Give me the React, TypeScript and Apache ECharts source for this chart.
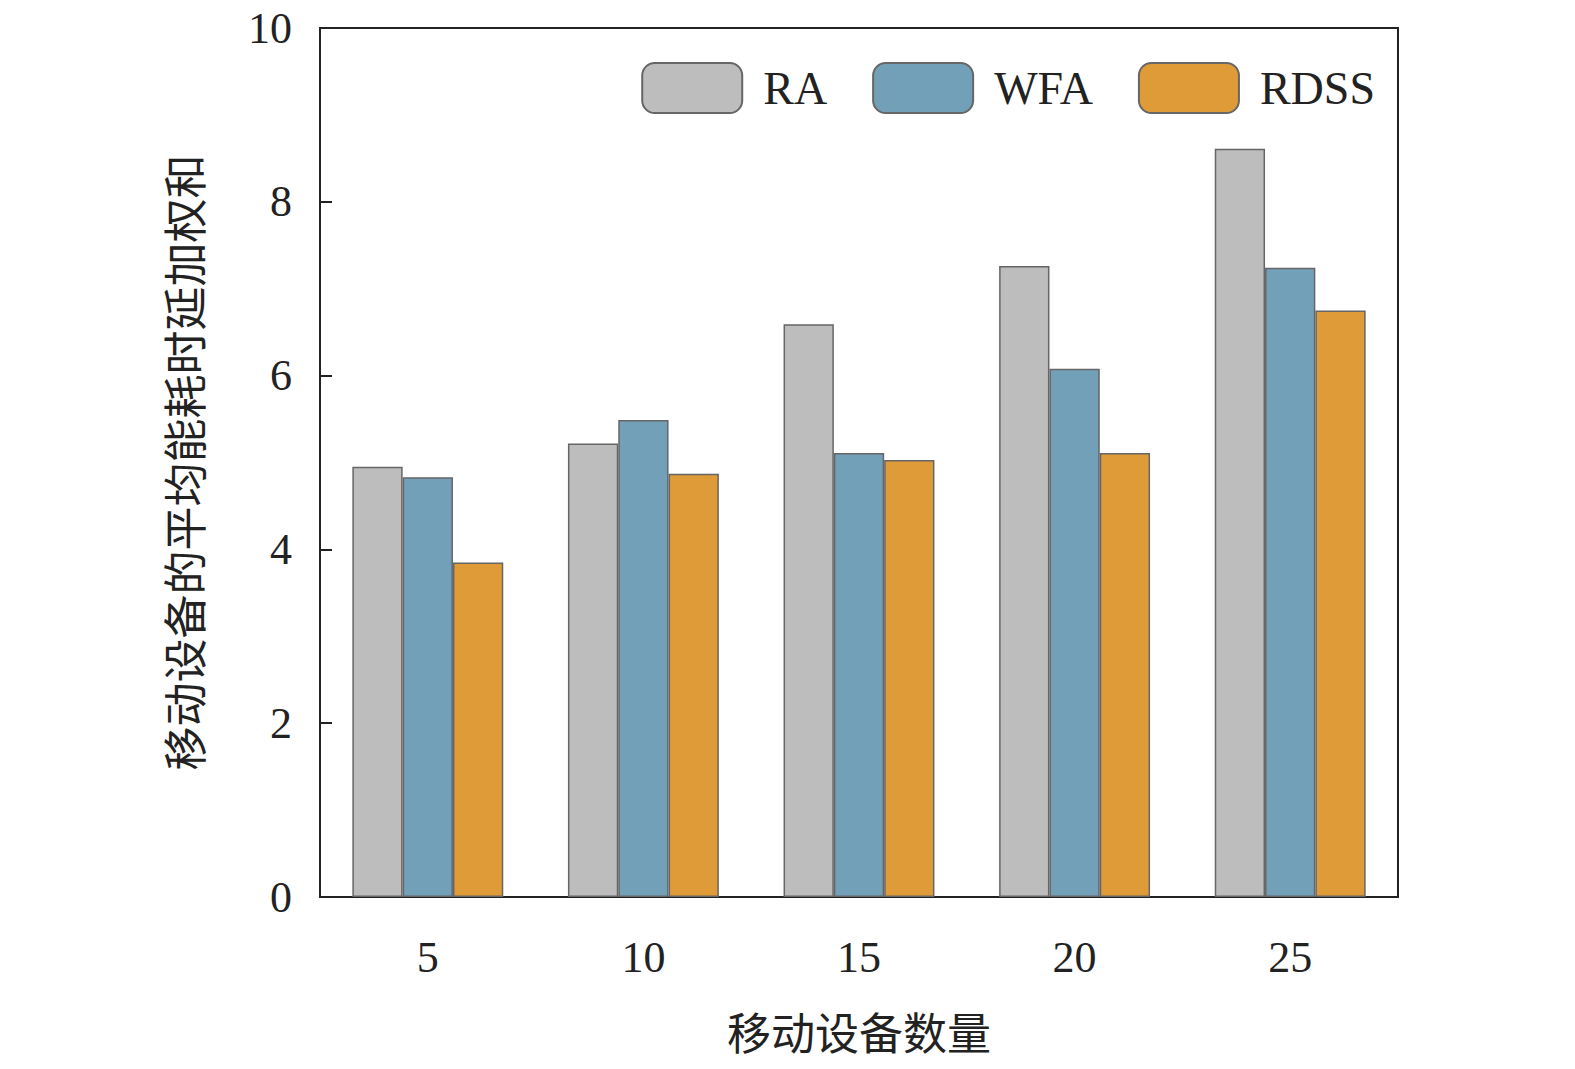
import React, { useEffect, useRef } from "react";
import * as echarts from "echarts";

const categories = ["5", "10", "15", "20", "25"];
const raValues = [4.95, 5.22, 6.59, 7.26, 8.61];
const wfaValues = [4.83, 5.49, 5.11, 6.08, 7.24];
const rdssValues = [3.85, 4.87, 5.03, 5.11, 6.75];

const F = "'Liberation Serif', 'Times New Roman', serif";
const CJK = "'Noto Sans CJK SC', sans-serif";

export default function App() {
  const ref = useRef<HTMLDivElement>(null);
  useEffect(() => {
    const chart = echarts.init(ref.current!, null, { renderer: "svg" });
    const mk = (name: string, data: number[], color: string) => ({
      name, type: "bar", data, barGap: "0%", barCategoryGap: "30%",
      itemStyle: { color, borderColor: "#666", borderWidth: 1.5 },
    });
    chart.setOption({
      animation: false,
      backgroundColor: "#fff",
      grid: { left: 320, top: 28, right: 177, bottom: 172, show: true, borderColor: "#222", borderWidth: 2, containLabel: false },
      legend: {
        right: 195, top: 57, itemWidth: 100, itemHeight: 50, itemGap: 45,
        textStyle: { fontFamily: F, fontSize: 46, color: "#222", padding: [0, 0, 0, 16] },
        data: ["RA", "WFA", "RDSS"],
      },
      xAxis: {
        type: "category", data: categories,
        name: "移动设备数量", nameLocation: "middle", nameGap: 112,
        nameTextStyle: { fontFamily: CJK, fontSize: 44, color: "#222" },
        axisLine: { lineStyle: { color: "#222", width: 2 } },
        axisTick: { inside: true, length: 12, lineStyle: { color: "#222", width: 2 } },
        axisLabel: { fontFamily: F, fontSize: 44, color: "#222", margin: 38 },
      },
      yAxis: {
        type: "value", min: 0, max: 10, interval: 2,
        name: "移动设备的平均能耗时延加权和", nameLocation: "middle", nameGap: 115,
        nameTextStyle: { fontFamily: CJK, fontSize: 44, color: "#222" },
        axisLine: { show: true, lineStyle: { color: "#222", width: 2 } },
        axisTick: { show: true, inside: true, length: 12, lineStyle: { color: "#222", width: 2 } },
        axisLabel: { fontFamily: F, fontSize: 44, color: "#222", margin: 28 },
        splitLine: { show: false },
      },
      series: [mk("RA", raValues, "#bdbdbd"), mk("WFA", wfaValues, "#72a0b8"), mk("RDSS", rdssValues, "#de9b38")],
    });
    return () => chart.dispose();
  }, []);
  return <div ref={ref} style={{ position: "fixed", left: 0, top: 0, width: 1575, height: 1069 }} />;
}
